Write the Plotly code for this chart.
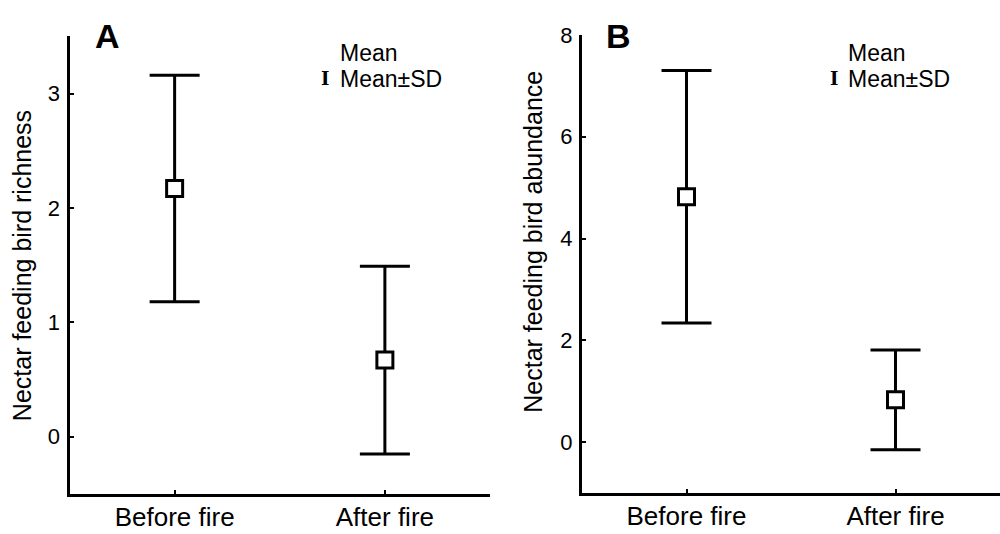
import plotly.graph_objects as go

categories = ["Before fire", "After fire"]
richness_mean = [2.17, 0.67]
richness_sd = [0.99, 0.82]
abundance_mean = [4.82, 0.83]
abundance_sd = [2.48, 0.98]

richness_ticks = [0, 1, 2, 3]
abundance_ticks = [0, 2, 4, 6, 8]

FONT = "Liberation Sans, Arial, sans-serif"

fig = go.Figure()

def add_panel(fig, mean, sd, xa, ya):
    fig.add_trace(go.Scatter(
        x=categories, y=mean, mode="markers",
        marker=dict(symbol="square", size=16, color="white",
                    line=dict(color="black", width=3)),
        error_y=dict(type="data", array=sd, symmetric=True,
                     color="black", thickness=3, width=25),
        xaxis=xa, yaxis=ya, showlegend=False, hoverinfo="x+y"))

add_panel(fig, richness_mean, richness_sd, "x", "y")
add_panel(fig, abundance_mean, abundance_sd, "x2", "y2")

xcommon = dict(type="category", range=[-0.5, 1.5], showline=True, linecolor="black",
               linewidth=3, ticks="inside", ticklen=4, tickwidth=2, tickcolor="black",
               showgrid=False, zeroline=False, tickfont=dict(family=FONT, size=26, color="black"),
               ticklabelstandoff=-2)
ycommon = dict(showline=True, linecolor="black", linewidth=3, ticks="inside", ticklen=4,
               tickwidth=2, tickcolor="black", showgrid=False, zeroline=False,
               tickfont=dict(family=FONT, size=22, color="black"), ticklabelstandoff=2)

fig.update_layout(
    width=1000, height=534,
    margin=dict(l=0, r=0, t=0, b=0),
    paper_bgcolor="white", plot_bgcolor="white",
    font=dict(family=FONT, color="black"),
    xaxis=dict(domain=[0.0695, 0.490], anchor="y", **xcommon),
    yaxis=dict(domain=[1 - 493 / 534, 1 - 25 / 534], anchor="x", range=[-0.5, 3.5],
               tickvals=richness_ticks, **ycommon),
    xaxis2=dict(domain=[0.582, 1.0], anchor="y2", **xcommon),
    yaxis2=dict(domain=[1 - 492 / 534, 1 - 23.5 / 534], anchor="x2", range=[-1, 8],
                tickvals=abundance_ticks, **ycommon),
)

ann = []
# y-axis titles
ann.append(dict(text="Nectar feeding bird richness", xref="paper", yref="paper",
                x=0.022, y=1 - 260 / 534, xanchor="center", yanchor="middle", textangle=-90,
                showarrow=False, font=dict(family=FONT, size=25, color="black")))
ann.append(dict(text="Nectar feeding bird abundance", xref="paper", yref="paper",
                x=0.533, y=1 - 235 / 534, xanchor="center", yanchor="middle", textangle=-90,
                showarrow=False, font=dict(family=FONT, size=25, color="black")))
# panel letters
for txt, xp in [("A", 0.1075), ("B", 0.618)]:
    ann.append(dict(text="<b>%s</b>" % txt, xref="paper", yref="paper", x=xp, y=1 - 25 / 534,
                    xanchor="center", yanchor="middle", showarrow=False,
                    font=dict(family=FONT, size=34, color="black")))
# legends
for xl, xi in [(0.338, 0.325), (0.846, 0.834)]:
    ann.append(dict(text="Mean", xref="paper", yref="paper", x=xl, y=1 - 42 / 534,
                    xanchor="left", yanchor="middle", showarrow=False,
                    font=dict(family=FONT, size=23, color="black")))
    ann.append(dict(text="Mean±SD", xref="paper", yref="paper", x=xl, y=1 - 69 / 534,
                    xanchor="left", yanchor="middle", showarrow=False,
                    font=dict(family=FONT, size=23, color="black")))
    ann.append(dict(text="<b>I</b>", xref="paper", yref="paper", x=xi, y=1 - 68 / 534,
                    xanchor="center", yanchor="middle", showarrow=False,
                    font=dict(family="DejaVu Serif", size=18, color="black")))
fig.update_layout(annotations=ann)

fig.write_html("out.html")
